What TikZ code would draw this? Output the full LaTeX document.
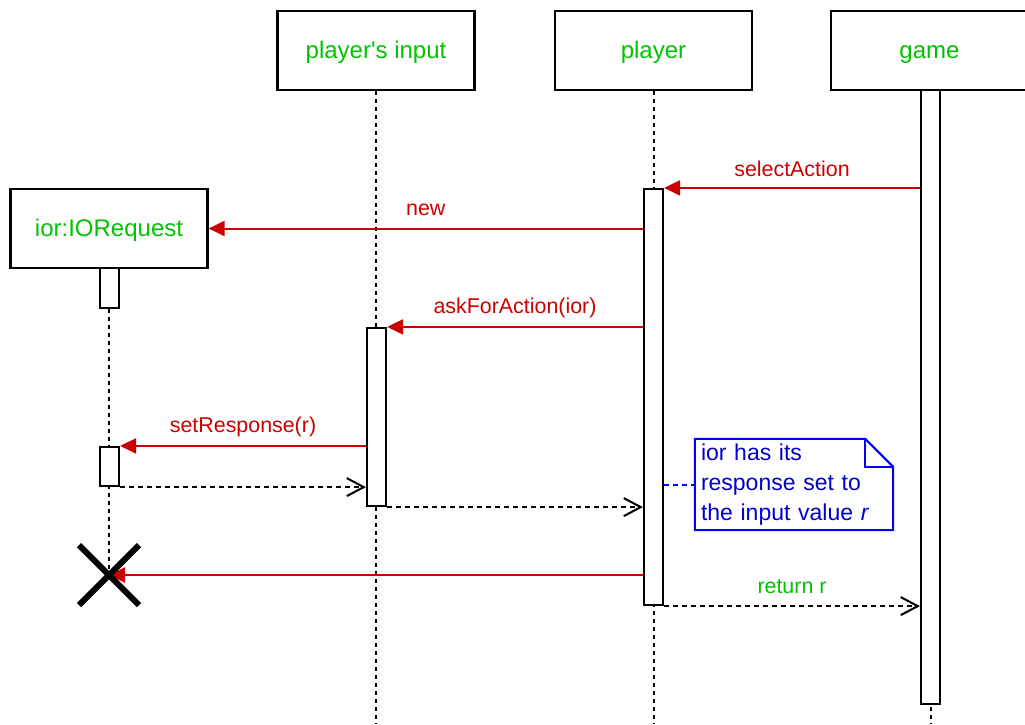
\documentclass[tikz,border=0pt]{standalone}
\usepackage{fontspec}
\setmainfont{Liberation Sans}
\usetikzlibrary{arrows.meta,calc}
\definecolor{msgred}{RGB}{204,0,0}
\definecolor{objgreen}{RGB}{0,196,0}
\definecolor{notetext}{RGB}{0,0,204}
\definecolor{noteedge}{RGB}{0,0,255}

\begin{document}
\begin{tikzpicture}[x=1pt,y=-1pt,
  objbox/.style={draw=black,line width=2.2pt,minimum width=197pt,minimum height=79pt,
    inner sep=0pt,text=objgreen,font=\fontsize{24}{28}\selectfont,text height=16pt,text depth=1pt},
  actbar/.style={draw=black,fill=white,line width=2.2pt,minimum width=19pt,inner sep=0pt},
  lifeline/.style={black,line width=2pt,dash pattern=on 4pt off 4pt},
  callmsg/.style={draw=msgred,line width=2pt,-{Triangle[length=16pt,width=15pt]}},
  retmsg/.style={black,line width=2pt,dash pattern=on 5pt off 4pt,
    -{Straight Barb[length=17pt,width=18pt,line width=2pt]}},
  msglabel/.style={text=msgred,font=\fontsize{21.4}{24}\selectfont,yshift=19pt},
  retlabel/.style={text=objgreen,font=\fontsize{21.4}{24}\selectfont,yshift=19pt},
]
\useasboundingbox (0,0) rectangle (1025,724);

% participants
\node[objbox] (inputBox) at (376,50.5) {player\textquotesingle s input};
\node[objbox] (playerBox) at (653.5,50.5) {player};
\node[objbox] (gameBox) at (929.5,50.5) {game};
\node[objbox] (iorBox) at (109,228.5) {ior:IORequest};

% lifeline ends
\coordinate (inputEnd) at (376,724);
\coordinate (playerEnd) at (653.5,724);
\coordinate (gameEnd) at (930.5,724);
\coordinate (destroyPt) at (109,575);

% lifelines
\draw[lifeline] (inputBox.south) -- (inputEnd);
\draw[lifeline] (playerBox.south) -- (playerEnd);
\draw[lifeline] (gameBox.south -| gameEnd) -- (gameEnd);
\draw[lifeline] (iorBox.south) -- (destroyPt);

% activation bars
\node[actbar,minimum height=614pt] (gameBar) at (930.5,397) {};
\node[actbar,minimum height=416pt] (playerBar) at (653.5,397) {};
\node[actbar,minimum height=178pt] (inputBar) at (376.5,417) {};
\node[actbar,minimum height=40pt] (iorBarA) at (109.5,288) {};
\node[actbar,minimum height=39pt] (iorBarB) at (109.5,466.5) {};

% messages
\draw[callmsg] (gameBar.west |- playerBar.north) -- node[msglabel] {selectAction} (playerBar.north east);
\draw[callmsg] (playerBar.west |- iorBox.east) -- node[msglabel] {new} (iorBox.east);
\draw[callmsg] (playerBar.west |- inputBar.north) -- node[msglabel] {askForAction(ior)} (inputBar.north east);
\draw[callmsg] (inputBar.west |- iorBarB.north) -- node[msglabel] {setResponse(r)} (iorBarB.north east);
\draw[retmsg] (iorBarB.south east) -- (inputBar.west |- iorBarB.south);
\draw[retmsg] (inputBar.south east) -- (playerBar.west |- inputBar.south);
\draw[callmsg] (playerBar.west |- destroyPt) -- (destroyPt);
\draw[retmsg] (playerBar.south east) -- node[retlabel] {return r} (gameBar.west |- playerBar.south);

% destruction mark
\draw[line width=6pt] ($(destroyPt)+(-30,-30)$) -- ($(destroyPt)+(30,30)$)
  ($(destroyPt)+(-30,30)$) -- ($(destroyPt)+(30,-30)$);

% note
\node[text=notetext,font=\fontsize{23}{30}\selectfont,text width=186pt,inner xsep=6pt,
  minimum height=91pt,align=left] (note) at (794,484.5)
  {ior has its\\response set to\\the input value \textit{r}};
\draw[noteedge,line width=2pt,line join=miter]
  (note.north west) -- ($(note.north east)+(-28,0)$) -- ($(note.north east)+(0,28)$)
  -- (note.south east) -- (note.south west) -- cycle;
\draw[noteedge,line width=2pt]
  ($(note.north east)+(-28,0)$) -- ($(note.north east)+(-28,28)$) -- ($(note.north east)+(0,28)$);
\draw[noteedge,line width=2pt,dash pattern=on 5pt off 4pt] (playerBar.east |- note.west) -- (note.west);
\end{tikzpicture}
\end{document}
